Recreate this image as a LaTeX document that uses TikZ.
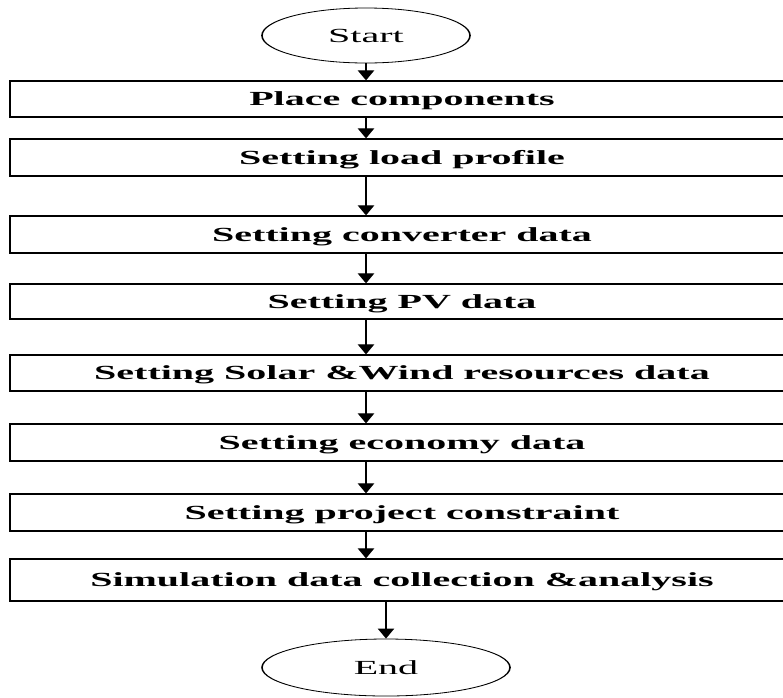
\documentclass[tikz,border=0pt]{standalone}
\usepackage{fontspec}
\setmainfont{Liberation Serif}
\usetikzlibrary{shapes.geometric,arrows.meta}
\begin{document}
\begin{tikzpicture}[x=1pt,y=-1pt]
\useasboundingbox (0,0) rectangle (783,697);
\begin{scope}[transform canvas={xscale=2},
  box/.style={draw, line width=1.2pt, minimum width=392pt, inner sep=0pt,
    font=\fontsize{20}{24}\selectfont\bfseries, text height=13pt, text depth=0pt},
  term/.style={draw, ellipse, line width=0.8pt, inner sep=0pt,
    font=\fontsize{20}{24}\selectfont, text height=13pt, text depth=0pt},
  arr/.style={line width=1.1pt, -{Triangle[width=8pt,length=10pt]}}]
\node[term, minimum width=104pt, minimum height=55pt] (start) at (183,35.5) {Start};
\node[box, minimum height=36pt] (b1) at (201,99) {Place components};
\node[box, minimum height=37pt] (b2) at (201,157.5) {Setting load profile};
\node[box, minimum height=37pt] (b3) at (201,234.5) {Setting converter data};
\node[box, minimum height=35pt] (b4) at (201,301.5) {Setting PV data};
\node[box, minimum height=36pt] (b5) at (201,373) {Setting Solar \&Wind resources data};
\node[box, minimum height=37pt] (b6) at (201,442.5) {Setting economy data};
\node[box, minimum height=37pt] (b7) at (201,512.5) {Setting project constraint};
\node[box, minimum height=42pt] (b8) at (201,580) {Simulation data collection \&analysis};
\node[term, minimum width=124pt, minimum height=57pt] (end) at (193,667.5) {End};
\draw[arr] (start.south) -- (b1.north -| start);
\draw[arr] (b1.south -| start) -- (b2.north -| start);
\draw[arr] (b2.south -| start) -- (b3.north -| start);
\draw[arr] (b3.south -| start) -- (b4.north -| start);
\draw[arr] (b4.south -| start) -- (b5.north -| start);
\draw[arr] (b5.south -| start) -- (b6.north -| start);
\draw[arr] (b6.south -| start) -- (b7.north -| start);
\draw[arr] (b7.south -| start) -- (b8.north -| start);
\draw[arr] (b8.south -| end) -- (end.north);
\end{scope}
\end{tikzpicture}
\end{document}
